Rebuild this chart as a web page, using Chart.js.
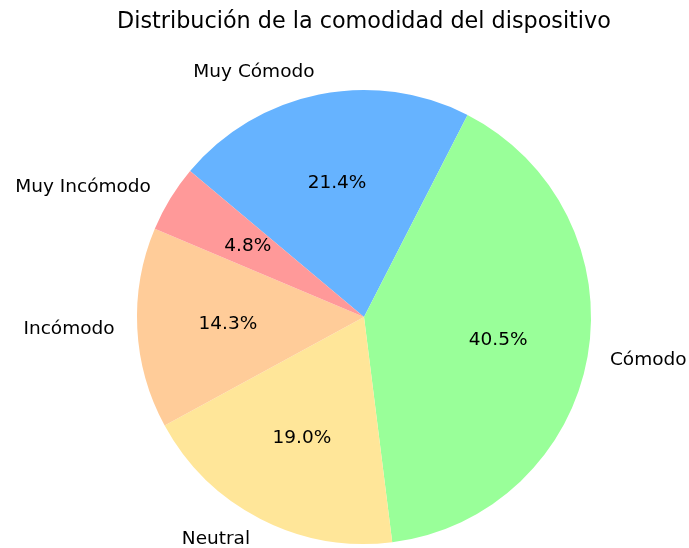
<!DOCTYPE html>
<html lang="es">
<head>
    <meta charset="UTF-8">
    <title>Distribución de la comodidad del dispositivo</title>
    <script src="https://cdn.jsdelivr.net/npm/chart.js"></script>
    <style>
        body {
            margin: 0;
            padding: 0;
            background: #ffffff;
        }

        .chart-box {
            width: 689px;
            height: 548px;
        }
    </style>
</head>
<body>
    <div class="chart-box">
        <canvas id="pie-chart"></canvas>
    </div>

    <script>
        // slices in clockwise drawing order (Chart.js goes clockwise)
        const categories = ['Muy Cómodo', 'Cómodo', 'Neutral', 'Incómodo', 'Muy Incómodo'];
        const counts = [9, 17, 8, 6, 2];
        const sliceColors = ['#66b3ff', '#99ff99', '#ffe699', '#ffcc99', '#ff9999'];

        const FONT = '"DejaVu Sans", Verdana, sans-serif';

        // outside labels + percentages, placed from the arc geometry
        const sliceText = {
            id: 'sliceText',
            afterDatasetsDraw(chart) {
                const ctx = chart.ctx;
                const meta = chart.getDatasetMeta(0);
                const total = counts.reduce((a, b) => a + b, 0);
                ctx.save();
                ctx.fillStyle = '#000000';
                ctx.font = '18.5px ' + FONT;
                ctx.textBaseline = 'middle';
                meta.data.forEach((arc, i) => {
                    const p = arc.getProps(['x', 'y', 'startAngle', 'endAngle', 'outerRadius'], true);
                    const mid = (p.startAngle + p.endAngle) / 2;
                    const cx = Math.cos(mid), cy = Math.sin(mid);

                    const lx = p.x + cx * p.outerRadius * 1.1;
                    const ly = p.y + cy * p.outerRadius * 1.1;
                    ctx.textAlign = cx < 0 ? 'right' : 'left';
                    ctx.fillText(categories[i], lx, ly);

                    const px = p.x + cx * p.outerRadius * 0.6;
                    const py = p.y + cy * p.outerRadius * 0.6;
                    ctx.textAlign = 'center';
                    ctx.fillText((counts[i] / total * 100).toFixed(1) + '%', px, py);
                });
                ctx.restore();
            }
        };

        const ctx = document.getElementById('pie-chart').getContext('2d');
        new Chart(ctx, {
            type: 'pie',
            data: {
                labels: categories,
                datasets: [{
                    data: counts,
                    backgroundColor: sliceColors,
                    borderWidth: 0,
                    hoverOffset: 0
                }]
            },
            options: {
                responsive: true,
                maintainAspectRatio: false,
                animation: false,
                rotation: -50,
                events: [],
                layout: {
                    padding: { top: 0, bottom: 4, left: 39, right: 0 }
                },
                plugins: {
                    legend: { display: false },
                    tooltip: { enabled: false },
                    title: {
                        display: true,
                        text: 'Distribución de la comodidad del dispositivo',
                        color: '#000000',
                        font: { family: FONT, size: 22.3, weight: 'normal' },
                        padding: { top: 8.6, bottom: 54.6 }
                    }
                }
            },
            plugins: [sliceText]
        });
    </script>
</body>
</html>
